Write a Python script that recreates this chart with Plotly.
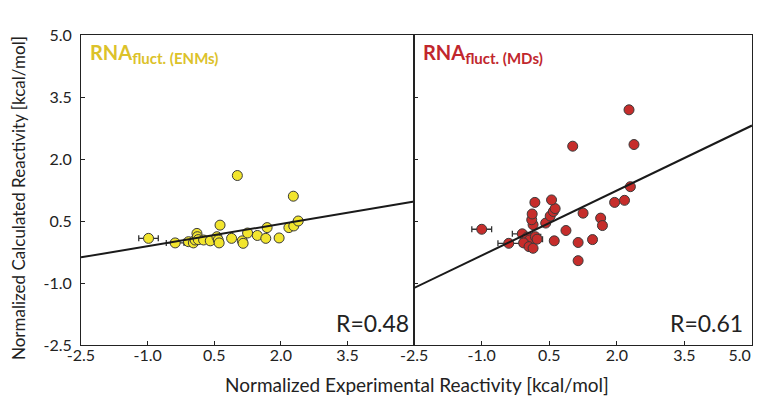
import plotly.graph_objects as go
from plotly.subplots import make_subplots

# ---------------- data ----------------
enm_x = [-0.98, -0.38, -0.08, 0.03, 0.07, 0.11, 0.12, 0.14, 0.26, 0.41, 0.56, 0.59, 0.61, 0.63,
         0.89, 1.02, 1.13, 1.15, 1.25, 1.47, 1.66, 1.69, 1.96, 2.18, 2.28, 2.29, 2.39]
enm_y = [0.08, -0.03, 0.00, -0.03, 0.04, 0.20, 0.12, 0.05, 0.04, 0.02, 0.12, 0.04, -0.03, 0.40,
         0.08, 1.60, 0.02, -0.04, 0.21, 0.15, 0.08, 0.34, 0.09, 0.34, 1.10, 0.38, 0.50]
enm_err = [0.22, 0.20, 0.10, 0.0, 0.10, 0.0, 0.0, 0.0, 0.0, 0.0, 0.0, 0.0, 0.0, 0.0,
           0.0, 0.0, 0.0, 0.0, 0.0, 0.0, 0.0, 0.0, 0.0, 0.0, 0.0, 0.0, 0.0]

md_x = [-1.00, -0.40, -0.10, 0.01, 0.06, -0.07, 0.05, 0.14, 0.19, 0.23, 0.14, 0.11, 0.12, 0.18,
        0.42, 0.52, 0.59, 0.63, 0.55, 0.61, 0.87, 1.02, 1.14, 1.14, 1.25, 1.46, 1.64, 1.68,
        1.95, 2.17, 2.30, 2.38, 2.27]
md_y = [0.30, -0.04, 0.19, 0.11, 0.04, -0.03, -0.12, -0.16, 0.12, 0.06, 0.41, 0.53, 0.67, 0.95,
        0.45, 0.62, 0.73, 0.80, 1.01, 0.02, 0.27, 2.31, -0.02, -0.46, 0.69, 0.05, 0.57, 0.39,
        0.95, 1.00, 1.33, 2.35, 3.19]
md_err = [0.22, 0.24, 0.22, 0.0, 0.0, 0.0, 0.0, 0.0, 0.12, 0.12, 0.0, 0.0, 0.0, 0.08,
          0.0, 0.0, 0.0, 0.0, 0.0, 0.0, 0.0, 0.0, 0.0, 0.0, 0.0, 0.0, 0.0, 0.0,
          0.0, 0.0, 0.0, 0.0, 0.0]

# fitted lines (slope, intercept)
enm_fit = [0.18, 0.07]
md_fit = [0.524, 0.19]
line_x = [-2.5, 5.0]

tick_vals = [-2.5, -1.0, 0.5, 2.0, 3.5, 5.0]
tick_text = ["-2.5", "-1.0", "0.5", "2.0", "3.5", "5.0"]
left_x_text = ["-2.5", "-1.0", "0.5", "2.0", "3.5", ""]
right_x_text = ["-2.5", "-1.0", "0.5", "2.0", "3.5", "5.0" + "\u00a0" * 6]

r_labels = ["R=0.48", "R=0.61"]
FONT = "Lato"

fig = make_subplots(rows=1, cols=2, horizontal_spacing=0)

def add_panel(col, xs, ys, errs, fit, fill):
    fig.add_trace(go.Scatter(
        x=xs, y=ys, mode="markers",
        error_x=dict(type="data", array=errs, visible=True, color="#333333",
                     thickness=1.3, width=3),
        marker=dict(size=10, color=fill, line=dict(color="#3a3a3a", width=1)),
        showlegend=False), row=1, col=col)
    fig.add_trace(go.Scatter(
        x=line_x, y=[fit[0] * v + fit[1] for v in line_x], mode="lines",
        line=dict(color="#1a1a1a", width=2), showlegend=False, hoverinfo="skip"),
        row=1, col=col)

add_panel(1, enm_x, enm_y, enm_err, enm_fit, "#f2e52e")
add_panel(2, md_x, md_y, md_err, md_fit, "#c62d2b")

axis_common = dict(range=[-2.5001, 5.0001], tickvals=tick_vals, ticks="inside", ticklen=4,
                   tickcolor="#222222", showline=True, linecolor="#222222", linewidth=1,
                   mirror=True, showgrid=False, zeroline=False, automargin=False,
                   ticklabeloverflow="allow",
                   tickfont=dict(family=FONT, size=16, color="#222222"))

fig.update_xaxes(**axis_common, ticklabelstandoff=-4)
fig.update_yaxes(**axis_common, ticklabelstandoff=5)
fig.update_xaxes(ticktext=left_x_text, domain=[0, 0.4965], row=1, col=1)
fig.update_xaxes(ticktext=right_x_text, domain=[0.4965, 1.0], row=1, col=2)
fig.update_yaxes(ticktext=tick_text, row=1, col=1)
fig.update_yaxes(showticklabels=False, row=1, col=2)

fig.add_annotation(xref="x domain", yref="y domain", x=0.02, y=0.99, xanchor="left", yanchor="top",
                   showarrow=False, align="left",
                   text="<b>RNA<sub><span style='font-size:15px'>fluct. (ENMs)</span></sub></b>",
                   font=dict(family=FONT, size=20, color="#dcc22a"))
fig.add_annotation(xref="x2 domain", yref="y2 domain", x=0.02, y=0.99, xanchor="left", yanchor="top",
                   showarrow=False, align="left",
                   text="<b>RNA<sub><span style='font-size:15px'>fluct. (MDs)</span></sub></b>",
                   font=dict(family=FONT, size=20, color="#c1272d"))

fig.add_annotation(xref="x domain", yref="y domain", x=0.99, y=0.02, xanchor="right", yanchor="bottom",
                   showarrow=False, text=r_labels[0], font=dict(family=FONT, size=23, color="#222222"))
fig.add_annotation(xref="x2 domain", yref="y2 domain", x=0.98, y=0.02, xanchor="right", yanchor="bottom",
                   showarrow=False, text=r_labels[1], font=dict(family=FONT, size=23, color="#222222"))

fig.add_annotation(xref="paper", yref="paper", x=0.5, y=-0.129, xanchor="center", yanchor="middle",
                   showarrow=False, text="Normalized Experimental Reactivity [kcal/mol]",
                   font=dict(family=FONT, size=19, color="#222222"))
fig.add_annotation(xref="paper", yref="paper", x=-0.094, y=0.474, xanchor="center", yanchor="middle",
                   showarrow=False, textangle=-90, text="Normalized Calculated Reactivity [kcal/mol]",
                   font=dict(family=FONT, size=17, color="#222222"))

# page body adds an 8px offset; margins compensate so the frame lands where the reference has it
fig.update_layout(width=762, height=405, margin=dict(l=73, r=18, t=27, b=68),
                  paper_bgcolor="white", plot_bgcolor="white")

fig.write_html("out.html")
